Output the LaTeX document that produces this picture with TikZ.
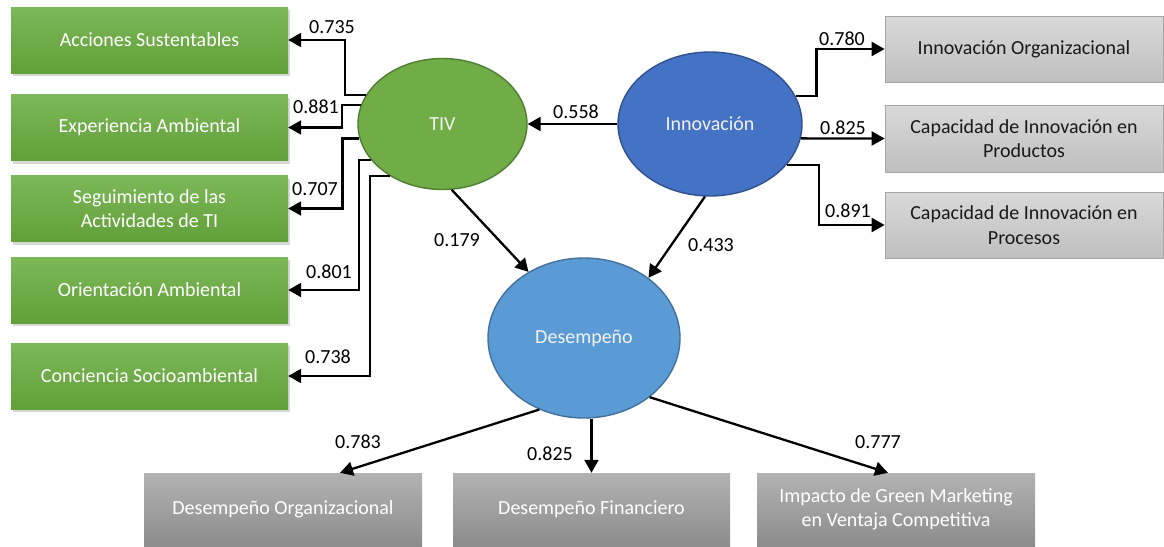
\documentclass[tikz,border=0pt]{standalone}
\usepackage{fontspec}
\setmainfont{Carlito}
\usetikzlibrary{shapes.geometric,arrows.meta,shadows}

\definecolor{grtop}{RGB}{124,184,88}
\definecolor{grbot}{RGB}{98,160,58}
\definecolor{tivfill}{RGB}{112,173,71}
\definecolor{tivline}{RGB}{80,126,50}
\definecolor{innfill}{RGB}{68,114,196}
\definecolor{innline}{RGB}{47,82,143}
\definecolor{desfill}{RGB}{91,155,213}
\definecolor{desline}{RGB}{65,113,156}

\begin{document}
\begin{tikzpicture}[x=1pt,y=-1pt,
  txt/.style={font=\fontsize{20}{24.5}\selectfont},
  greenbox/.style={txt, rectangle, minimum width=277pt, minimum height=66pt,
    top color=grtop, bottom color=grbot, text=white, align=center, inner sep=0pt,
    drop shadow={shadow xshift=2pt, shadow yshift=-3pt, opacity=0.3}},
  lightbox/.style={txt, rectangle, minimum width=278pt, minimum height=66pt,
    top color=black!15, bottom color=black!25, draw=black!35, line width=0.8pt,
    text=black!90, align=center, inner sep=0pt},
  darkbox/.style={txt, rectangle, minimum width=278pt, minimum height=73pt,
    top color=black!30, bottom color=black!45, text=white, align=center, inner sep=0pt},
  construct/.style={txt, ellipse, inner sep=0pt, line width=1.4pt, text=white!95!black},
  val/.style={txt, inner sep=0pt, text=black},
  arr/.style={line width=2.3pt, -{Triangle[length=13pt,width=14pt]}}
]
\useasboundingbox[fill=white] (0,0) rectangle (1164,546);

% TIV indicators
\node[greenbox] (b1) at (149.5,40)  {Acciones Sustentables};
\node[greenbox] (b2) at (149.5,127.5) {Experiencia Ambiental};
\node[greenbox] (b3) at (149.5,208.5) {Seguimiento de las\\Actividades de TI};
\node[greenbox] (b4) at (149.5,290) {Orientación Ambiental};
\node[greenbox] (b5) at (149.5,376) {Conciencia Socioambiental};

% Innovation indicators
\node[lightbox] (r1) at (1024,49)    {Innovación Organizacional};
\node[lightbox, minimum height=67pt] (r2) at (1024,138.5) {Capacidad de Innovación en\\Productos};
\node[lightbox] (r3) at (1024,225)   {Capacidad de Innovación en\\Procesos};

% Performance indicators
\node[darkbox] (dA) at (283,509.5)   {Desempeño Organizacional};
\node[darkbox, minimum width=277pt] (dB) at (591.5,509.5) {Desempeño Financiero};
\node[darkbox] (dC) at (896,509.5)   {Impacto de Green Marketing\\en Ventaja Competitiva};

% Latent constructs
\node[construct, minimum width=169pt, minimum height=131pt, fill=tivfill, draw=tivline] (tiv) at (442.5,124) {TIV};
\node[construct, minimum width=184pt, minimum height=144pt, fill=innfill, draw=innline] (inn) at (710,124) {Innovación};
\node[construct, minimum width=192pt, minimum height=160pt, fill=desfill, draw=desline] (des) at (584,338) {Desempeño};

% Loadings of TIV
\draw[arr] (tiv.159) -- ++(-21,0) |- (b1.east);
\draw[arr] (tiv.167) -- ++(-19,0) |- (b2.east);
\draw[arr] (tiv.190) -- ++(-17,0) |- (b3.east);
\draw[arr] (tiv.207) -- ++(-12,0) |- (b4.east);
\draw[arr] (tiv.225) -- ++(-20,0) |- (b5.east);

% Loadings of Innovación
\draw[arr] (inn.18) -- ++(21,0) |- (r1.west);
\draw[arr] (inn.351) -- (r2.west);
\draw[arr] (inn.332) -- ++(32,0) |- (r3.west);

% Structural paths
\draw[arr] (inn.west) -- (tiv.east);
\draw[arr] (inn.266) -- (des.43);
\draw[arr] (tiv.278) -- (des.130);

% Loadings of Desempeño
\draw[arr] (des.238) -- ([xshift=57pt]dA.north);
\draw[arr] (dB.north |- des.south) -- (dB.north);
\draw[arr] (des.318) -- ([xshift=-8pt]dC.north);

% Coefficients
\node[val] (v1) at (332,27)  {0.735};
\node[val] (v2) at (316,107) {0.881};
\node[val] (v3) at (315,189) {0.707};
\node[val] (v4) at (329,272) {0.801};
\node[val] (v5) at (328,357) {0.738};
\node[val] (v6) at (457,240) {0.179};
\node[val] (v7) at (576,112) {0.558};
\node[val] (v8) at (711,245) {0.433};
\node[val] (v9) at (842,39)  {0.780};
\node[val] (v10) at (843,128) {0.825};
\node[val] (v11) at (848,211) {0.891};
\node[val] (v12) at (358,442) {0.783};
\node[val] (v13) at (550,454) {0.825};
\node[val] (v14) at (878,442) {0.777};
\end{tikzpicture}
\end{document}
